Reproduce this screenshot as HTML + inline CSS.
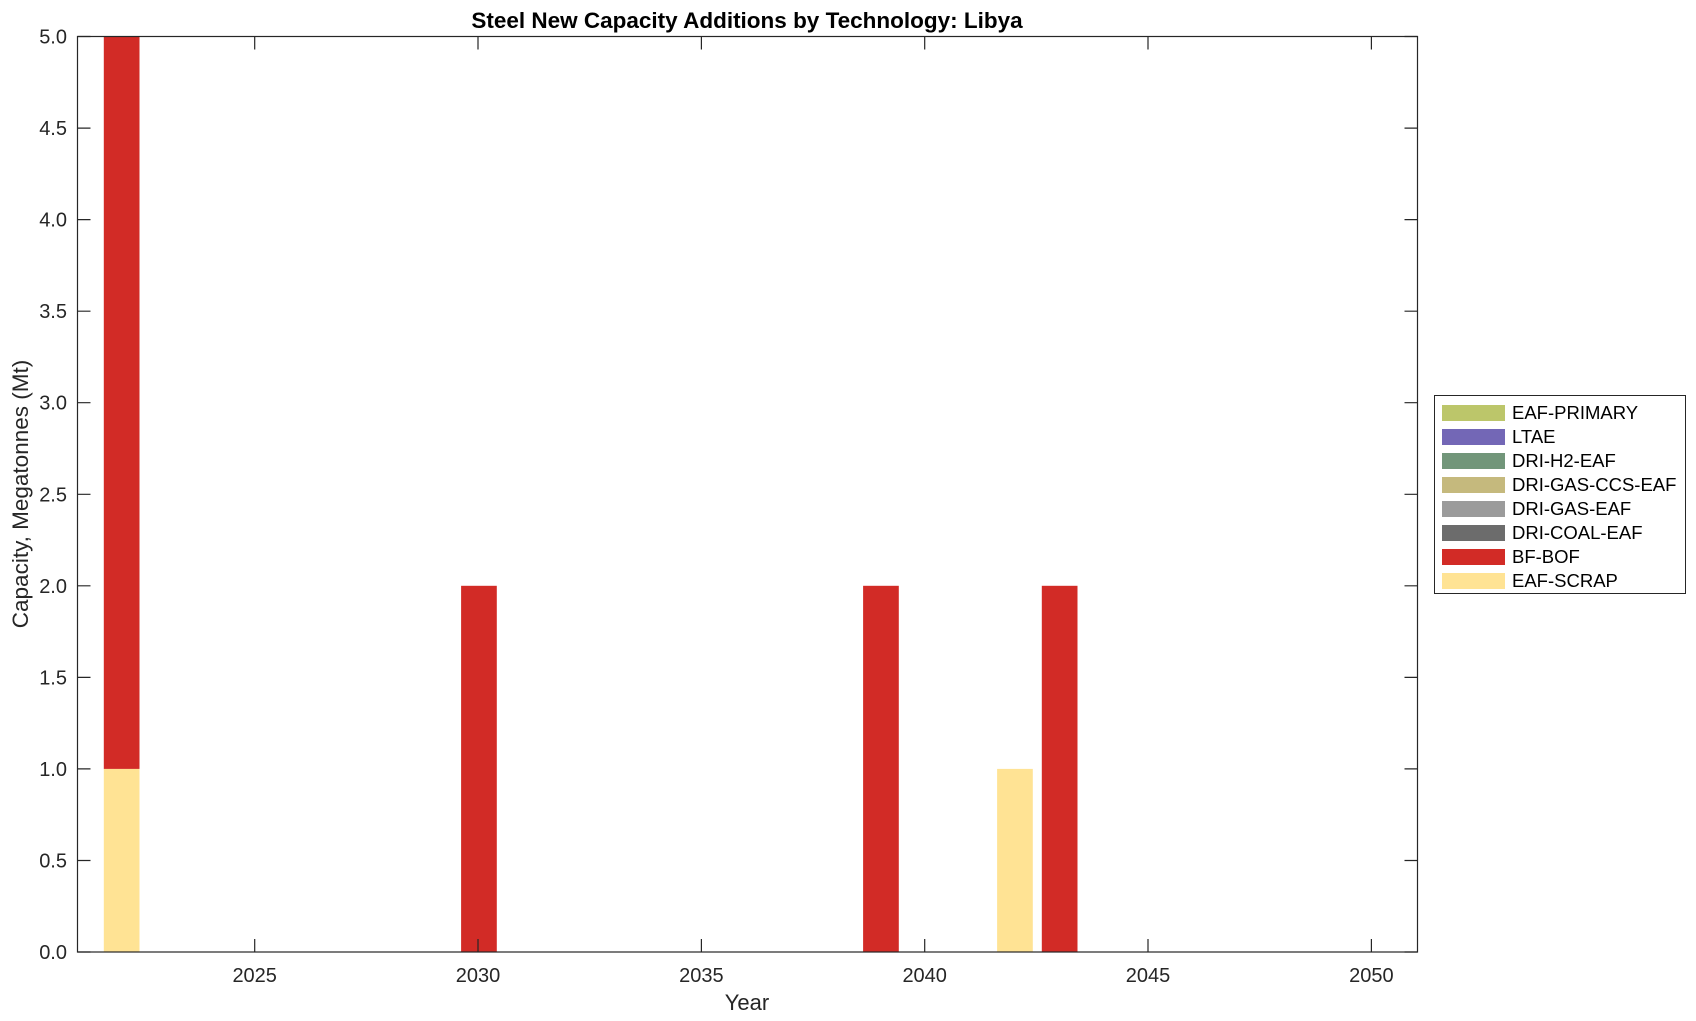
<!DOCTYPE html>
<html><head><meta charset="utf-8"><style>body{margin:0;background:#fff}svg{display:block}</style></head>
<body>
<svg width="1696" height="1021" viewBox="0 0 1696 1021" xmlns="http://www.w3.org/2000/svg" font-family="Liberation Sans, sans-serif">
<rect width="1696" height="1021" fill="#fff"/>
<text x="747" y="28" font-size="22.5" font-weight="bold" text-anchor="middle" fill="#000">Steel New Capacity Additions by Technology: Libya</text>
<rect x="103.8" y="768.9" width="35.7" height="183.1" fill="#ffe394"/>
<rect x="103.8" y="36.5" width="35.7" height="732.4" fill="#d22b26"/>
<rect x="461.1" y="585.8" width="35.7" height="366.2" fill="#d22b26"/>
<rect x="863.1" y="585.8" width="35.7" height="366.2" fill="#d22b26"/>
<rect x="997.1" y="768.9" width="35.7" height="183.1" fill="#ffe394"/>
<rect x="1041.8" y="585.8" width="35.7" height="366.2" fill="#d22b26"/>
<rect x="77.5" y="36.5" width="1340" height="915.5" fill="none" stroke="#262626" stroke-width="1.2"/>
<g stroke="#262626" stroke-width="1.2">
<path d="M77.5 952h13M77.5 860.5h13M77.5 768.9h13M77.5 677.4h13M77.5 585.8h13M77.5 494.3h13M77.5 402.7h13M77.5 311.2h13M77.5 219.6h13M77.5 128.1h13M77.5 36.5h13"/>
<path d="M1417.5 952h-13M1417.5 860.5h-13M1417.5 768.9h-13M1417.5 677.4h-13M1417.5 585.8h-13M1417.5 494.3h-13M1417.5 402.7h-13M1417.5 311.2h-13M1417.5 219.6h-13M1417.5 128.1h-13M1417.5 36.5h-13"/>
<path d="M254.7 952v-13M478 952v-13M701.4 952v-13M924.7 952v-13M1148 952v-13M1371.4 952v-13"/>
<path d="M254.7 36.5v13M478 36.5v13M701.4 36.5v13M924.7 36.5v13M1148 36.5v13M1371.4 36.5v13"/>
</g>
<g font-size="20" fill="#262626" text-anchor="end">
<text x="67" y="959">0.0</text><text x="67" y="867.5">0.5</text><text x="67" y="776">1.0</text><text x="67" y="684.4">1.5</text><text x="67" y="592.8">2.0</text><text x="67" y="501.3">2.5</text><text x="67" y="409.7">3.0</text><text x="67" y="318.2">3.5</text><text x="67" y="226.6">4.0</text><text x="67" y="135.1">4.5</text><text x="67" y="43.5">5.0</text>
</g>
<g font-size="20" fill="#262626" text-anchor="middle">
<text x="254.7" y="982">2025</text><text x="478" y="982">2030</text><text x="701.4" y="982">2035</text><text x="924.7" y="982">2040</text><text x="1148" y="982">2045</text><text x="1371.4" y="982">2050</text>
<text x="747" y="1010" font-size="22">Year</text>
</g>
<text transform="translate(28,494) rotate(-90)" font-size="22.5" fill="#262626" text-anchor="middle">Capacity, Megatonnes (Mt)</text>
<rect x="1434.5" y="395.5" width="251" height="198" fill="#fff" stroke="#262626" stroke-width="1"/>
<g>
<rect x="1442" y="405" width="63" height="16" fill="#bcc66a"/>
<rect x="1442" y="429" width="63" height="16" fill="#7367b6"/>
<rect x="1442" y="453" width="63" height="16" fill="#72967a"/>
<rect x="1442" y="477" width="63" height="16" fill="#c5b97d"/>
<rect x="1442" y="501" width="63" height="16" fill="#9b9b9b"/>
<rect x="1442" y="525" width="63" height="16" fill="#6c6c6c"/>
<rect x="1442" y="549" width="63" height="16" fill="#d22b26"/>
<rect x="1442" y="573" width="63" height="16" fill="#ffe394"/>
</g>
<g font-size="18.5" fill="#000">
<text x="1512" y="419">EAF-PRIMARY</text>
<text x="1512" y="443">LTAE</text>
<text x="1512" y="467">DRI-H2-EAF</text>
<text x="1512" y="491">DRI-GAS-CCS-EAF</text>
<text x="1512" y="515">DRI-GAS-EAF</text>
<text x="1512" y="539">DRI-COAL-EAF</text>
<text x="1512" y="563">BF-BOF</text>
<text x="1512" y="587">EAF-SCRAP</text>
</g>
</svg>
</body></html>
